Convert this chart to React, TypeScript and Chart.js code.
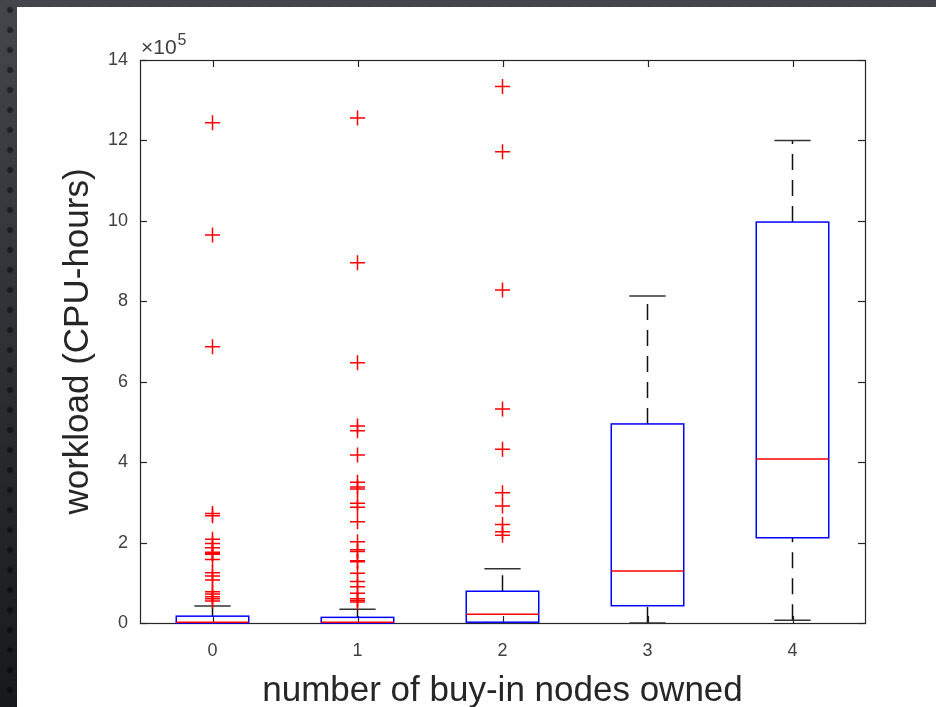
import React, { useEffect, useRef } from 'react';
import { Chart, registerables } from 'chart.js';

Chart.register(...registerables);

// ---- data (values in units of 10^5 CPU-hours) ----
const categories = ['0', '1', '2', '3', '4'];
const yTicks = [0, 2, 4, 6, 8, 10, 12, 14];
const q1 = [0, 0, 0.02, 0.43, 2.12];
const medians = [0.02, 0.02, 0.22, 1.29, 4.08];
const q3 = [0.17, 0.14, 0.79, 4.95, 9.97];
const whiskerLow = [0, 0, 0, 0, 0.07];
const whiskerHigh = [0.42, 0.34, 1.35, 8.13, 12.0];
const outliers0 = [12.44, 9.65, 6.87, 2.72, 2.67, 2.08, 1.98, 1.87, 1.76, 1.73, 1.71, 1.58, 1.25, 1.17, 1.07, 0.78, 0.72, 0.65, 0.6, 0.55];
const outliers1 = [12.56, 8.96, 6.47, 4.9, 4.78, 4.18, 3.5, 3.38, 3.33, 2.98, 2.88, 2.52, 2.02, 1.82, 1.78, 1.55, 1.52, 1.24, 1.03, 0.9, 0.74, 0.6, 0.56, 0.52];
const outliers2 = [13.34, 11.72, 8.28, 5.32, 4.32, 3.24, 2.91, 2.45, 2.27, 2.18];
const outliers3: number[] = [];
const outliers4: number[] = [];
const outlierGroups = [outliers0, outliers1, outliers2, outliers3, outliers4];

const FONT = "'Liberation Sans', Arial, Helvetica, sans-serif";
const BOX_HALF = 0.25;

function line(ctx: CanvasRenderingContext2D, x1: number, y1: number, x2: number, y2: number) {
  ctx.beginPath();
  ctx.moveTo(x1, y1);
  ctx.lineTo(x2, y2);
  ctx.stroke();
}

const framePlugin = {
  id: 'matlabFrame',
  beforeDatasetsDraw(chart: any) {
    const { ctx, chartArea: a, scales } = chart;
    const x = scales.x, y = scales.y;
    ctx.save();
    ctx.strokeStyle = '#262626';
    ctx.lineWidth = 1.2;
    ctx.strokeRect(a.left + 0.5, a.top + 0.5, a.right - a.left, a.bottom - a.top);
    const tl = 7;
    categories.forEach((_, i) => {
      const px = Math.round(x.getPixelForValue(i)) + 0.5;
      line(ctx, px, a.bottom, px, a.bottom - tl);
      line(ctx, px, a.top, px, a.top + tl);
    });
    yTicks.forEach((v) => {
      const py = Math.round(y.getPixelForValue(v)) + 0.5;
      line(ctx, a.left, py, a.left + tl, py);
      line(ctx, a.right, py, a.right - tl, py);
    });
    // box plot elements
    categories.forEach((_, i) => {
      const xc = x.getPixelForValue(i);
      const hw = x.getPixelForValue(i + BOX_HALF) - xc;
      const cw = hw / 2;
      const pq1 = y.getPixelForValue(q1[i]);
      const pq3 = y.getPixelForValue(q3[i]);
      const pmed = y.getPixelForValue(medians[i]);
      const plo = y.getPixelForValue(whiskerLow[i]);
      const phi = y.getPixelForValue(whiskerHigh[i]);
      ctx.strokeStyle = '#111111';
      ctx.lineWidth = 1.5;
      ctx.setLineDash([16, 10]);
      line(ctx, xc, pq3, xc, phi);
      line(ctx, xc, plo, xc, pq1);
      ctx.setLineDash([]);
      ctx.strokeStyle = '#333333';
      line(ctx, xc - cw, phi, xc + cw, phi);
      line(ctx, xc - cw, plo, xc + cw, plo);
      ctx.strokeStyle = '#0000ff';
      ctx.strokeRect(xc - hw, pq3, 2 * hw, pq1 - pq3);
      ctx.strokeStyle = '#ff0000';
      line(ctx, xc - hw, pmed, xc + hw, pmed);
    });
    ctx.restore();
  },
  afterDraw(chart: any) {
    const { ctx, chartArea: a } = chart;
    ctx.save();
    ctx.fillStyle = '#404040';
    ctx.textBaseline = 'alphabetic';
    ctx.textAlign = 'left';
    ctx.font = `21px ${FONT}`;
    const base = '\u00d710';
    ctx.fillText(base, a.left + 1, a.top - 6);
    const w = ctx.measureText(base).width;
    ctx.font = `16px ${FONT}`;
    ctx.fillText('5', a.left + 2 + w, a.top - 15);
    ctx.restore();
  },
};

export default function App() {
  const ref = useRef<HTMLCanvasElement | null>(null);
  useEffect(() => {
    if (!ref.current) return;
    const datasets = outlierGroups.map((vals, i) => ({
      type: 'scatter' as const,
      label: `outliers ${categories[i]}`,
      data: vals.map((v) => ({ x: i, y: v })),
      pointStyle: 'cross',
      pointRadius: 7.5,
      pointHoverRadius: 7.5,
      borderColor: '#ff0000',
      backgroundColor: '#ff0000',
      borderWidth: 1.5,
    }));
    const chart = new Chart(ref.current, {
      type: 'scatter',
      data: { datasets },
      options: {
        responsive: false,
        animation: false,
        layout: { padding: { top: 60, right: 71, left: 0, bottom: 0 } },
        plugins: { legend: { display: false }, tooltip: { enabled: false } },
        scales: {
          x: {
            type: 'linear',
            min: -0.5,
            max: 4.5,
            afterBuildTicks: (s: any) => {
              s.ticks = categories.map((_, i) => ({ value: i }));
            },
            afterFit: (s: any) => {
              s.height = 84;
            },
            grid: { display: false, drawTicks: false },
            border: { display: false },
            ticks: {
              padding: 17,
              color: '#404040',
              font: { family: FONT, size: 18 },
              callback: (v: any) => categories[Number(v)] ?? '',
            },
            title: {
              display: true,
              text: 'number of buy-in nodes owned',
              color: '#262626',
              font: { family: FONT, size: 35, lineHeight: 1 },
              padding: { top: 0, bottom: -1.5 },
            },
          },
          y: {
            type: 'linear',
            min: 0,
            max: 14,
            afterBuildTicks: (s: any) => {
              s.ticks = yTicks.map((v) => ({ value: v }));
            },
            afterFit: (s: any) => {
              s.width = 140;
            },
            grid: { display: false, drawTicks: false },
            border: { display: false },
            ticks: {
              padding: 12,
              color: '#404040',
              font: { family: FONT, size: 18 },
              callback: (v: any) => String(v),
            },
            title: {
              display: true,
              text: 'workload (CPU-hours)',
              color: '#262626',
              font: { family: FONT, size: 35, lineHeight: 1 },
              padding: { top: 60.5, bottom: 0 },
            },
          },
        },
      },
      plugins: [framePlugin],
    } as any);
    return () => chart.destroy();
  }, []);

  return (
    <div
      style={{
        position: 'fixed',
        left: 0,
        top: 0,
        width: 936,
        height: 707,
        overflow: 'hidden',
        backgroundColor: '#2e3034',
        backgroundImage:
          'radial-gradient(circle, rgba(0,0,0,0.5) 2px, rgba(0,0,0,0) 4px), linear-gradient(to bottom, #43464b, #17191c)',
        backgroundSize: '20px 20px, 100% 100%',
      }}
    >
      <div style={{ position: 'absolute', left: 17, top: 7, right: 0, bottom: 0, background: '#ffffff' }} />
      <canvas ref={ref} width={936} height={707} style={{ position: 'absolute', left: 0, top: 0 }} />
    </div>
  );
}
